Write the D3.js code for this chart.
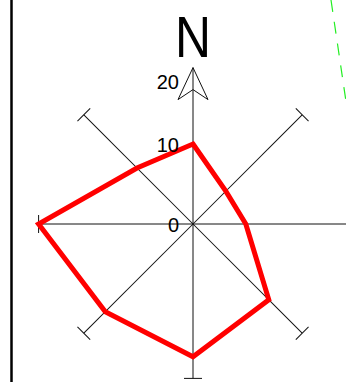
<!DOCTYPE html>
<html lang="en">
<head>
<meta charset="UTF-8">
<title>Rose</title>
<style>
  body { margin: 0; background: #fff; }
  text { font-family: "Liberation Sans", Arial, sans-serif; fill: #000; }
</style>
</head>
<body>
<script src="https://cdn.jsdelivr.net/npm/d3@7/dist/d3.min.js"></script>
<script>
// directions clockwise from north, and the red series value for each
const directions = ["N", "NE", "E", "SE", "S", "SW", "W", "NW"];
const values = [10, 5.8, 6.6, 13.4, 16.6, 15.5, 19.3, 9.9];
const tickValues = [0, 10, 20];

const width = 346, height = 382;
const cx = 193, cy = 224;

const r = d3.scaleLinear().domain([0, 20]).range([0, 160]);
const axisLen = r(d3.max(values));
const tipLen = axisLen + 2;

const angle = d3.scalePoint().domain(directions).range([0, 2 * Math.PI * 7 / 8]);

const svg = d3.select("body").append("svg")
    .attr("width", width)
    .attr("height", height);

// frame line on the left
svg.append("line")
    .attr("x1", 11.5).attr("x2", 11.5)
    .attr("y1", 0).attr("y2", height)
    .attr("stroke", "#000")
    .attr("stroke-width", 2.5);

// dashed green guide at the top right
svg.append("line")
    .attr("x1", width - 15).attr("y1", 0)
    .attr("x2", width + 2).attr("y2", 115)
    .attr("stroke", "#22ee22")
    .attr("stroke-width", 1.2)
    .attr("stroke-dasharray", "12 10");

const g = svg.append("g").attr("transform", `translate(${cx},${cy})`);

// spokes
const spokes = g.selectAll("g.spoke")
    .data(directions)
    .join("g")
    .attr("class", "spoke")
    .attr("transform", d => `rotate(${angle(d) * 180 / Math.PI})`);

spokes.append("line")
    .attr("x1", 0).attr("y1", 0)
    .attr("x2", 0).attr("y2", d => d === "N" ? -tipLen : -axisLen)
    .attr("stroke", "#111")
    .attr("stroke-width", 1);

spokes.filter(d => d !== "N").append("line")
    .attr("x1", -9).attr("x2", 9)
    .attr("y1", -axisLen).attr("y2", -axisLen)
    .attr("stroke", "#111")
    .attr("stroke-width", 1);

// north arrow head
g.append("path")
    .attr("d", `M0,${-tipLen} L15,${-tipLen + 32} L0,${-tipLen + 22} L-15,${-tipLen + 32} Z`)
    .attr("fill", "none")
    .attr("stroke", "#111")
    .attr("stroke-width", 1);

// the series
const line = d3.lineRadial()
    .angle((d, i) => angle(directions[i]))
    .radius(d => r(d))
    .curve(d3.curveLinearClosed);

g.append("path")
    .datum(values)
    .attr("d", line)
    .attr("fill", "none")
    .attr("stroke", "#ff0000")
    .attr("stroke-width", 5)
    .attr("stroke-linejoin", "miter");

// tick labels along the north spoke
g.selectAll("text.tick")
    .data(tickValues)
    .join("text")
    .attr("class", "tick")
    .attr("x", -14)
    .attr("y", d => -Math.min(r(d), tipLen - 14))
    .attr("dy", "0.38em")
    .attr("text-anchor", "end")
    .attr("font-size", 20)
    .text(d => d);

// N letter
g.append("text")
    .attr("x", 0)
    .attr("y", -tipLen - 11)
    .attr("text-anchor", "middle")
    .attr("font-size", 58)
    .attr("textLength", 36)
    .attr("lengthAdjust", "spacingAndGlyphs")
    .text("N");
</script>
</body>
</html>
